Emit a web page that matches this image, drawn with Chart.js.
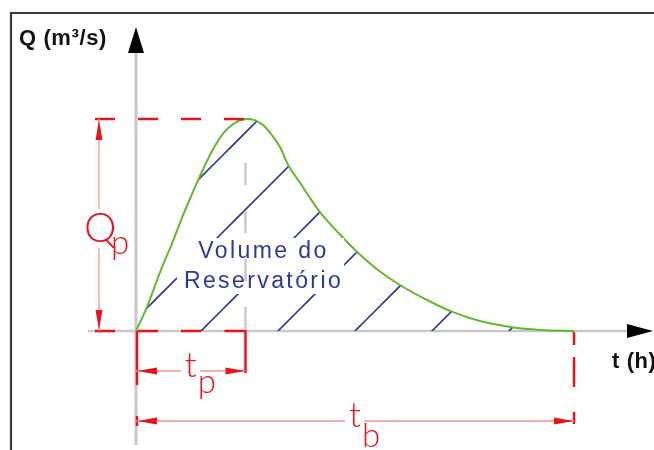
<!DOCTYPE html>
<html>
<head>
<meta charset="utf-8">
<script src="https://cdn.jsdelivr.net/npm/chart.js@4.4.1/dist/chart.umd.min.js"></script>
<style>
  html, body { margin: 0; padding: 0; background: #fff; }
  #wrap { width: 654px; height: 450px; }
</style>
</head>
<body>
<div id="wrap"><canvas id="hydro" width="654" height="450"></canvas></div>
<script>
// Unit hydrograph: discharge Q (m³/s) over time t (h)
const timeH = [0, 0.10, 0.22, 0.33, 0.43, 0.52, 0.58, 0.69, 0.80, 0.90, 1.02,
               1.15, 1.24, 1.32, 1.39, 1.50, 1.59, 1.68, 1.85, 2.02, 2.21, 2.41,
               2.64, 2.89, 3.14, 3.42, 3.69, 4.00];
const flowQ = [0, 11.3, 27.8, 41.5, 54.7, 65.6, 72.6, 84.4, 93.4, 98.1, 100,
               97.6, 92.5, 86.3, 78.3, 69.8, 62.7, 56.1, 46.2, 37.3, 28.8, 21.7,
               15.1, 9.0, 4.7, 1.9, 0.5, 0];

const peakTime = 1;    // tp
const baseTime = 4;    // tb
const peakFlow = 100;  // Qp

const axisTitles = ['Q (m³/s)', 't (h)'];
const areaLabel = ['Volume do', 'Reservatório'];
const dimLabels = { qp: ['Q', 'p'], tp: ['t', 'p'], tb: ['t', 'b'] };

// scale window (axes themselves are hidden; everything is placed through them)
const tRange = [-1.242, 4.7306];
const qRange = [-56.13, 156.13];

const RED = '#e4161d', PINK = '#f29696', NAVY = '#2c3a92', GRAY = '#c8c8c8', GREEN = '#62b82e';

// diagonal hatching used as the fill under the curve
function makeHatch() {
  const s = 77, k = 70;
  const c = document.createElement('canvas');
  c.width = s; c.height = s;
  const g = c.getContext('2d');
  g.strokeStyle = NAVY;
  g.lineWidth = 1.6;
  for (const off of [k - s, k, k + s]) {
    g.beginPath();
    g.moveTo(off + 10, -10);
    g.lineTo(off - s - 10, s + 10);
    g.stroke();
  }
  return document.getElementById('hydro').getContext('2d').createPattern(c, 'repeat');
}

function tri(ctx, tipX, tipY, dir, len, half, color) {
  ctx.save();
  ctx.fillStyle = color;
  ctx.beginPath();
  ctx.moveTo(tipX, tipY);
  if (dir === 'up')    { ctx.lineTo(tipX - half, tipY + len); ctx.lineTo(tipX + half, tipY + len); }
  if (dir === 'down')  { ctx.lineTo(tipX - half, tipY - len); ctx.lineTo(tipX + half, tipY - len); }
  if (dir === 'left')  { ctx.lineTo(tipX + len, tipY - half); ctx.lineTo(tipX + len, tipY + half); }
  if (dir === 'right') { ctx.lineTo(tipX - len, tipY - half); ctx.lineTo(tipX - len, tipY + half); }
  ctx.closePath();
  ctx.fill();
  ctx.restore();
}

function seg(ctx, x1, y1, x2, y2, color, width, dash) {
  ctx.save();
  ctx.strokeStyle = color;
  ctx.lineWidth = width;
  ctx.setLineDash(dash || []);
  ctx.beginPath();
  ctx.moveTo(x1, y1);
  ctx.lineTo(x2, y2);
  ctx.stroke();
  ctx.restore();
}

function px(chart) {
  const x = chart.scales.x, y = chart.scales.y;
  return {
    x0: x.getPixelForValue(0),
    xtp: x.getPixelForValue(peakTime),
    xtb: x.getPixelForValue(baseTime),
    xpk: x.getPixelForValue(timeH[flowQ.indexOf(Math.max(...flowQ))]),
    y0: y.getPixelForValue(0),
    yqp: y.getPixelForValue(peakFlow)
  };
}

const sketchPlugin = {
  id: 'sketch',
  beforeDatasetsDraw(chart) {
    const ctx = chart.ctx;
    const { x0, y0 } = px(chart);
    const W = chart.width, H = chart.height;

    // frame
    ctx.save();
    ctx.strokeStyle = '#3c3c3c';
    ctx.lineWidth = 2.2;
    ctx.beginPath();
    ctx.moveTo(11, H);
    ctx.lineTo(11, 13);
    ctx.lineTo(W, 13);
    ctx.stroke();
    ctx.restore();

    // axes
    seg(ctx, x0, y0 + 114, x0, 50, GRAY, 3);
    seg(ctx, x0 - 48, y0, W - 24, y0, GRAY, 2.5);
    tri(ctx, x0, 27, 'up', 26, 8, '#000');
    tri(ctx, W - 1, y0, 'right', 26, 7, '#000');
  },
  afterDatasetsDraw(chart) {
    const ctx = chart.ctx;
    const { x0, xtp, xtb, xpk, y0, yqp } = px(chart);
    const W = chart.width;

    const areaFont = '23px "Liberation Sans", Arial, sans-serif';
    // label block inside the hatched area
    ctx.save();
    ctx.font = areaFont;
    ctx.letterSpacing = '2.4px';
    const cx = xtp + 17;
    const w1 = ctx.measureText(areaLabel[0]).width;
    const w2 = ctx.measureText(areaLabel[1]).width;
    const wm = Math.max(w1, w2);
    ctx.fillStyle = '#fff';
    ctx.fillRect(cx - wm / 2 - 6, y0 - 93, wm + 8, 56);
    ctx.restore();

    // gray dashed line at tp
    seg(ctx, xtp, yqp + 44, xtp, y0, GRAY, 2.5, [22, 26]);

    ctx.save();
    ctx.font = areaFont;
    ctx.letterSpacing = '2.4px';
    ctx.fillStyle = NAVY;
    ctx.textAlign = 'center';
    ctx.textBaseline = 'alphabetic';
    ctx.fillText(areaLabel[0], cx + 1, y0 - 73);
    ctx.fillText(areaLabel[1], cx + 1, y0 - 43);
    ctx.restore();

    // red dashed guides
    seg(ctx, x0 - 41, yqp, xpk, yqp, RED, 2.5, [20, 23]);
    seg(ctx, x0 - 41, y0, xtp - 22, y0, RED, 2.5, [20, 23]);
    ctx.save();
    ctx.strokeStyle = RED;
    ctx.lineWidth = 2.5;
    ctx.beginPath();
    ctx.moveTo(xtp - 21, y0);
    ctx.lineTo(xtp, y0);
    ctx.lineTo(xtp, y0 + 42);
    ctx.stroke();
    ctx.restore();
    seg(ctx, x0 + 1, y0, x0 + 1, y0 + 54, RED, 2.5);
    seg(ctx, xtb, y0 + 1, xtb, y0 + 93, RED, 2.5, [13, 12, 30, 25]);
    seg(ctx, x0 + 1, y0 + 85, x0 + 1, y0 + 95, RED, 2.5);

    // Qp dimension
    const xq = x0 - 37;
    seg(ctx, xq, yqp, xq, yqp + 90, PINK, 1.3);
    seg(ctx, xq, y0 - 83, xq, y0, PINK, 1.3);
    tri(ctx, xq, yqp + 1, 'up', 20, 3.5, RED);
    tri(ctx, xq, y0 - 1, 'down', 20, 3.5, RED);

    // tp dimension
    const ytp = y0 + 40;
    const mtp = (x0 + xtp) / 2;
    seg(ctx, x0, ytp, mtp - 10, ytp, PINK, 1.3);
    seg(ctx, mtp + 9, ytp, xtp, ytp, PINK, 1.3);
    tri(ctx, x0 + 1, ytp, 'left', 20, 3.5, RED);
    tri(ctx, xtp, ytp, 'right', 20, 3.5, RED);

    // tb dimension
    const ytb = y0 + 90;
    const mtb = (x0 + xtb) / 2;
    seg(ctx, x0, ytb, mtb - 10, ytb, PINK, 1.3);
    seg(ctx, mtb + 9, ytb, xtb, ytb, PINK, 1.3);
    tri(ctx, x0 + 1, ytb, 'left', 20, 3.5, RED);
    tri(ctx, xtb, ytb, 'right', 20, 3.5, RED);

    // red symbols
    ctx.save();
    ctx.fillStyle = RED;
    ctx.textBaseline = 'alphabetic';
    ctx.textAlign = 'left';
    ctx.font = '300 41px Lato, "Liberation Sans", sans-serif';
    ctx.fillText(dimLabels.qp[0], xq - 15, y0 - 89);
    ctx.font = '300 33px Lato, "Liberation Sans", sans-serif';
    ctx.fillText(dimLabels.qp[1], xq + 12, y0 - 77);

    ctx.font = '300 35px Lato, "Liberation Sans", sans-serif';
    ctx.textAlign = 'center';
    ctx.fillText(dimLabels.tp[0], mtp, y0 + 46);
    ctx.fillText(dimLabels.tb[0], mtb, y0 + 96);
    ctx.textAlign = 'left';
    ctx.font = '300 33px Lato, "Liberation Sans", sans-serif';
    ctx.fillText(dimLabels.tp[1], mtp + 7, y0 + 62);
    ctx.fillText(dimLabels.tb[1], mtb + 7, y0 + 116);
    ctx.restore();

    // axis titles
    ctx.save();
    ctx.fillStyle = '#111';
    ctx.font = 'bold 22px "Liberation Sans", Arial, sans-serif';
    ctx.letterSpacing = '0.6px';
    ctx.textAlign = 'left';
    ctx.fillText(axisTitles[0], 19, 45);
    ctx.fillText(axisTitles[1], W - 42, y0 + 37);
    ctx.restore();
  }
};

new Chart(document.getElementById('hydro'), {
  type: 'line',
  data: {
    datasets: [{
      data: timeH.map((t, i) => ({ x: t, y: flowQ[i] })),
      borderColor: GREEN,
      borderWidth: 2,
      backgroundColor: makeHatch(),
      fill: 'origin',
      cubicInterpolationMode: 'monotone',
      pointRadius: 0
    }]
  },
  options: {
    responsive: false,
    animation: false,
    events: [],
    layout: { padding: 0 },
    plugins: { legend: { display: false }, tooltip: { enabled: false } },
    scales: {
      x: { type: 'linear', display: false, min: tRange[0], max: tRange[1] },
      y: { type: 'linear', display: false, min: qRange[0], max: qRange[1] }
    }
  },
  plugins: [sketchPlugin]
});
</script>
</body>
</html>
